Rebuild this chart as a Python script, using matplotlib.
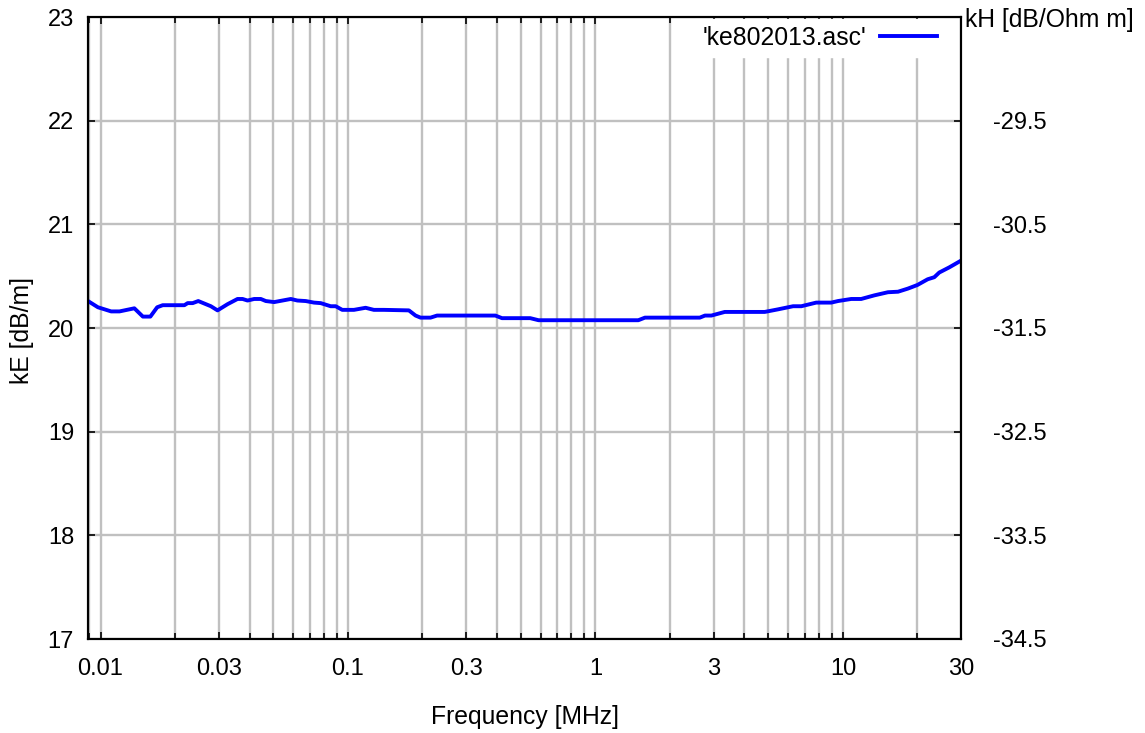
import matplotlib
matplotlib.use("Agg")
import matplotlib.pyplot as plt
from matplotlib.ticker import FixedLocator, NullFormatter, FixedFormatter

plt.rcParams['font.family'] = ['Liberation Sans', 'DejaVu Sans']

# Data (frequency in MHz, kE in dB/m)
freq = [0.0089, 0.00976, 0.01104, 0.01193, 0.0137, 0.01483, 0.0159, 0.01694, 0.01784,
        0.02182, 0.0225, 0.02357, 0.02483, 0.02792, 0.0297, 0.03262, 0.03577, 0.0375,
        0.03927, 0.04178, 0.04444, 0.04656, 0.05031, 0.05873, 0.06245, 0.0675, 0.0729,
        0.0776, 0.0851, 0.0892, 0.0948, 0.1057, 0.1178, 0.1272, 0.1396, 0.1762, 0.1875,
        0.1964, 0.2155, 0.229, 0.394, 0.419, 0.545, 0.589, 1.49, 1.585, 2.64, 2.77, 2.94,
        3.33, 4.83, 5.47, 6.29, 6.79, 7.80, 8.97, 9.55, 10.8, 11.85, 13.4, 15.2, 16.7,
        18.3, 20.0, 22.0, 23.4, 24.5, 26.9, 30.0]
kE = [20.26, 20.20, 20.16, 20.16, 20.19, 20.11, 20.11, 20.20, 20.22,
      20.22, 20.24, 20.24, 20.26, 20.21, 20.17, 20.23, 20.28, 20.28,
      20.265, 20.28, 20.28, 20.26, 20.25, 20.28, 20.265, 20.26, 20.245,
      20.24, 20.21, 20.21, 20.175, 20.175, 20.195, 20.175, 20.175, 20.17, 20.12,
      20.10, 20.10, 20.12, 20.12, 20.095, 20.095, 20.075, 20.075, 20.10, 20.10, 20.12, 20.12,
      20.155, 20.155, 20.18, 20.21, 20.21, 20.245, 20.245, 20.26, 20.28, 20.28, 20.315, 20.345, 20.35,
      20.38, 20.415, 20.47, 20.49, 20.535, 20.585, 20.65]

series_label = "'ke802013.asc'"
x_tick_values = [0.01, 0.03, 0.1, 0.3, 1, 3, 10, 30]
x_tick_labels = ['0.01', '0.03', '0.1', '0.3', '1', '3', '10', '30']
y_ticks = [17, 18, 19, 20, 21, 22, 23]
y2_ticks = [-34.5, -33.5, -32.5, -31.5, -30.5, -29.5]
y2_labels = ['-34.5', '-33.5', '-32.5', '-31.5', '-30.5', '-29.5']
y2_offset = -51.5

W, H = 1145, 733
fig = plt.figure(figsize=(W / 100, H / 100), dpi=100)
L, R, T, B = 88, 961, 17, 639
ax = fig.add_axes([L / W, (H - B) / H, (R - L) / W, (B - T) / H])

FS = 17
FSL = 17.8
grid_c = '#c0c0c0'

ax.set_xscale('log')
ax.set_xlim(0.0089, 30)
ax.set_ylim(17, 23)

minor = []
for d in [0.001, 0.01, 0.1, 1, 10]:
    for m in range(1, 10):
        v = d * m
        if 0.0089 <= v <= 30:
            minor.append(v)
ax.xaxis.set_major_locator(FixedLocator(x_tick_values))
ax.xaxis.set_major_formatter(FixedFormatter(x_tick_labels))
ax.xaxis.set_minor_locator(FixedLocator([v for v in minor if all(abs(v - t) > 1e-9 for t in x_tick_values)]))
ax.xaxis.set_minor_formatter(NullFormatter())
ax.set_yticks(y_ticks)
ax.set_yticklabels([str(t) for t in y_ticks])

# grid
for v in minor:
    ax.axvline(v, color=grid_c, lw=1.7, zorder=1)
for t in y_ticks:
    ax.axhline(t, color=grid_c, lw=1.7, zorder=1)

line, = ax.plot(freq, kE, color='#0000ff', lw=2.8, zorder=3, label=series_label)

ax.tick_params(axis='both', which='major', direction='in', length=5, width=1.2,
               labelsize=FS, top=True, right=False)
ax.tick_params(axis='x', which='minor', direction='in', length=4, width=1.2, top=True)
ax.tick_params(axis='x', which='major', pad=14)
ax.tick_params(axis='y', which='major', pad=10)
for s in ax.spines.values():
    s.set_linewidth(1.5)
    s.set_zorder(5)

ax2 = ax.twinx()
ax2.set_ylim(17 + y2_offset, 23 + y2_offset)
ax2.set_yticks(y2_ticks)
ax2.set_yticklabels(y2_labels)
ax2.tick_params(axis='y', direction='in', length=5, width=1.2, labelsize=FS, pad=23)
for s in ax2.spines.values():
    s.set_linewidth(1.5)

leg = ax.legend(handles=[line], loc='center right', frameon=True, fontsize=FSL,
                markerfirst=False, handlelength=2.3, borderaxespad=0.0,
                bbox_to_anchor=(944 / W, 1 - 38 / H), bbox_transform=fig.transFigure,
                borderpad=0.3, handletextpad=0.55)
leg.get_frame().set_edgecolor('white')
leg.get_frame().set_facecolor('white')
leg.get_frame().set_alpha(1.0)
leg.get_frame().set_boxstyle('square', pad=0)
leg.set_zorder(4)

fig.text(525 / W, 1 - 717 / H, 'Frequency [MHz]', fontsize=FSL, ha='center', va='center')
fig.text(22 / W, 1 - 330 / H, 'kE [dB/m]', fontsize=FSL, ha='center', va='center', rotation=90)
fig.text(965 / W, 1 - 20 / H, 'kH [dB/Ohm m]', fontsize=FSL, ha='left', va='center')

fig.savefig('out.png', dpi=100)
